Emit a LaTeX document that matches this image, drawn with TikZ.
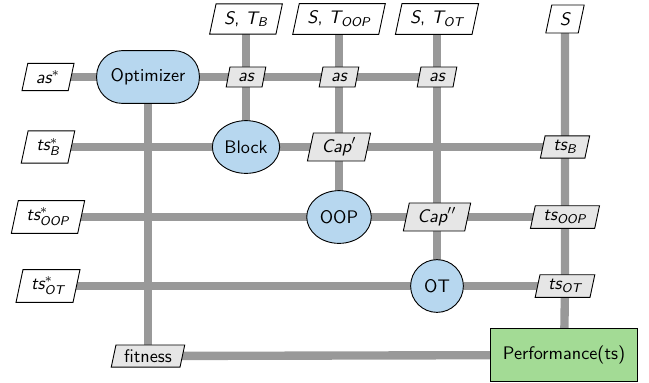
\documentclass[tikz,border=0pt]{standalone}
\usepackage{amsmath}
\usepackage{xcolor}
\usepackage{tikz}
\usetikzlibrary{shapes.geometric,backgrounds,positioning}
\definecolor{optblue}{HTML}{B7D7EF}
\definecolor{perfgreen}{HTML}{A3DB95}
\definecolor{datagray}{HTML}{E6E6E6}
\definecolor{pipegray}{HTML}{999999}
\newcommand{\vi}[1]{\textit{#1}}

\begin{document}
\begin{tikzpicture}[x=0.55pt,y=-0.55pt,font=\sffamily,
  datain/.style={draw,line width=0.5pt,fill=white,trapezium,trapezium left angle=78,trapezium right angle=102,trapezium stretches body,inner xsep=4.5pt,inner ysep=4pt,minimum height=15pt},
  datamid/.style={datain,fill=datagray,inner ysep=2.5pt,minimum height=11pt},
  optbox/.style={draw,line width=0.5pt,fill=optblue,rounded corners=14pt,minimum width=56.5pt,minimum height=29pt},
  solver/.style={draw,line width=0.5pt,fill=optblue,ellipse,inner sep=0pt,minimum height=29pt},
  funcbox/.style={draw,line width=0.5pt,fill=perfgreen,minimum width=81pt,minimum height=29.5pt},
  pipe/.style={draw=pipegray,line width=4.6pt}]
\useasboundingbox (0,0) rectangle (649,382);
% inputs
\node[datain] (inB) at (246,19) {$\vi{S}$, $\vi{T}_{\vi{B}}$};
\node[datain] (inOOP) at (339,19) {$\vi{S}$, $\vi{T}_{\vi{OOP}}$};
\node[datain] (inOT) at (437,19) {$\vi{S}$, $\vi{T}_{\vi{OT}}$};
\node[datain] (inS) at (565,19) {$\vi{S}$};
\node[datain] (asin) at (48,77) {$\vi{as}^{*}$};
\node[datain] (tsBin) at (48,147) {$\vi{ts}^{*}_{\vi{B}}$};
\node[datain] (tsOOPin) at (48,217) {$\vi{ts}^{*}_{\vi{OOP}}$};
\node[datain] (tsOTin) at (48,286) {$\vi{ts}^{*}_{\vi{OT}}$};
% diagonal
\node[optbox] (opt) at (148,77) {Optimizer};
\node[solver,minimum width=37pt] (block) at (246,147) {Block};
\node[solver,minimum width=35.5pt] (oop) at (339,217) {OOP};
\node[solver,minimum width=29pt] (ot) at (437,286) {OT};
\node[funcbox] (perf) at (564,355) {Performance(ts)};
% coupling data
\node[datamid] (asB) at (246,77) {$\vi{as}$};
\node[datamid] (asOOP) at (339,77) {$\vi{as}$};
\node[datamid] (asOT) at (437,77) {$\vi{as}$};
\node[datamid] (capB) at (339,147) {$\vi{Cap}'$};
\node[datamid] (capOOP) at (437,217) {$\vi{Cap}''$};
\node[datamid] (tsB) at (565,147) {$\vi{ts}_{\vi{B}}$};
\node[datamid] (tsOOP) at (565,217) {$\vi{ts}_{\vi{OOP}}$};
\node[datamid] (tsOT) at (565,286) {$\vi{ts}_{\vi{OT}}$};
\node[datamid] (fit) at (148,356) {fitness};
% pipes
\begin{scope}[on background layer]
\draw[pipe] (asin.center)--(opt.center)--(asB.center)--(asOOP.center)--(asOT.center);
\draw[pipe] (tsBin.center)--(block.center)--(capB.center)--(tsB.center);
\draw[pipe] (tsOOPin.center)--(oop.center)--(capOOP.center)--(tsOOP.center);
\draw[pipe] (tsOTin.center)--(ot.center)--(tsOT.center);
\draw[pipe] (fit.center)--(perf.center);
\draw[pipe] (opt.center)--(fit.center);
\draw[pipe] (inB.center)--(asB.center)--(block.center);
\draw[pipe] (inOOP.center)--(asOOP.center)--(capB.center)--(oop.center);
\draw[pipe] (inOT.center)--(asOT.center)--(capOOP.center)--(ot.center);
\draw[pipe] (inS.center)--(tsB.center)--(tsOOP.center)--(tsOT.center)--(perf.center);
\end{scope}
\end{tikzpicture}
\end{document}
